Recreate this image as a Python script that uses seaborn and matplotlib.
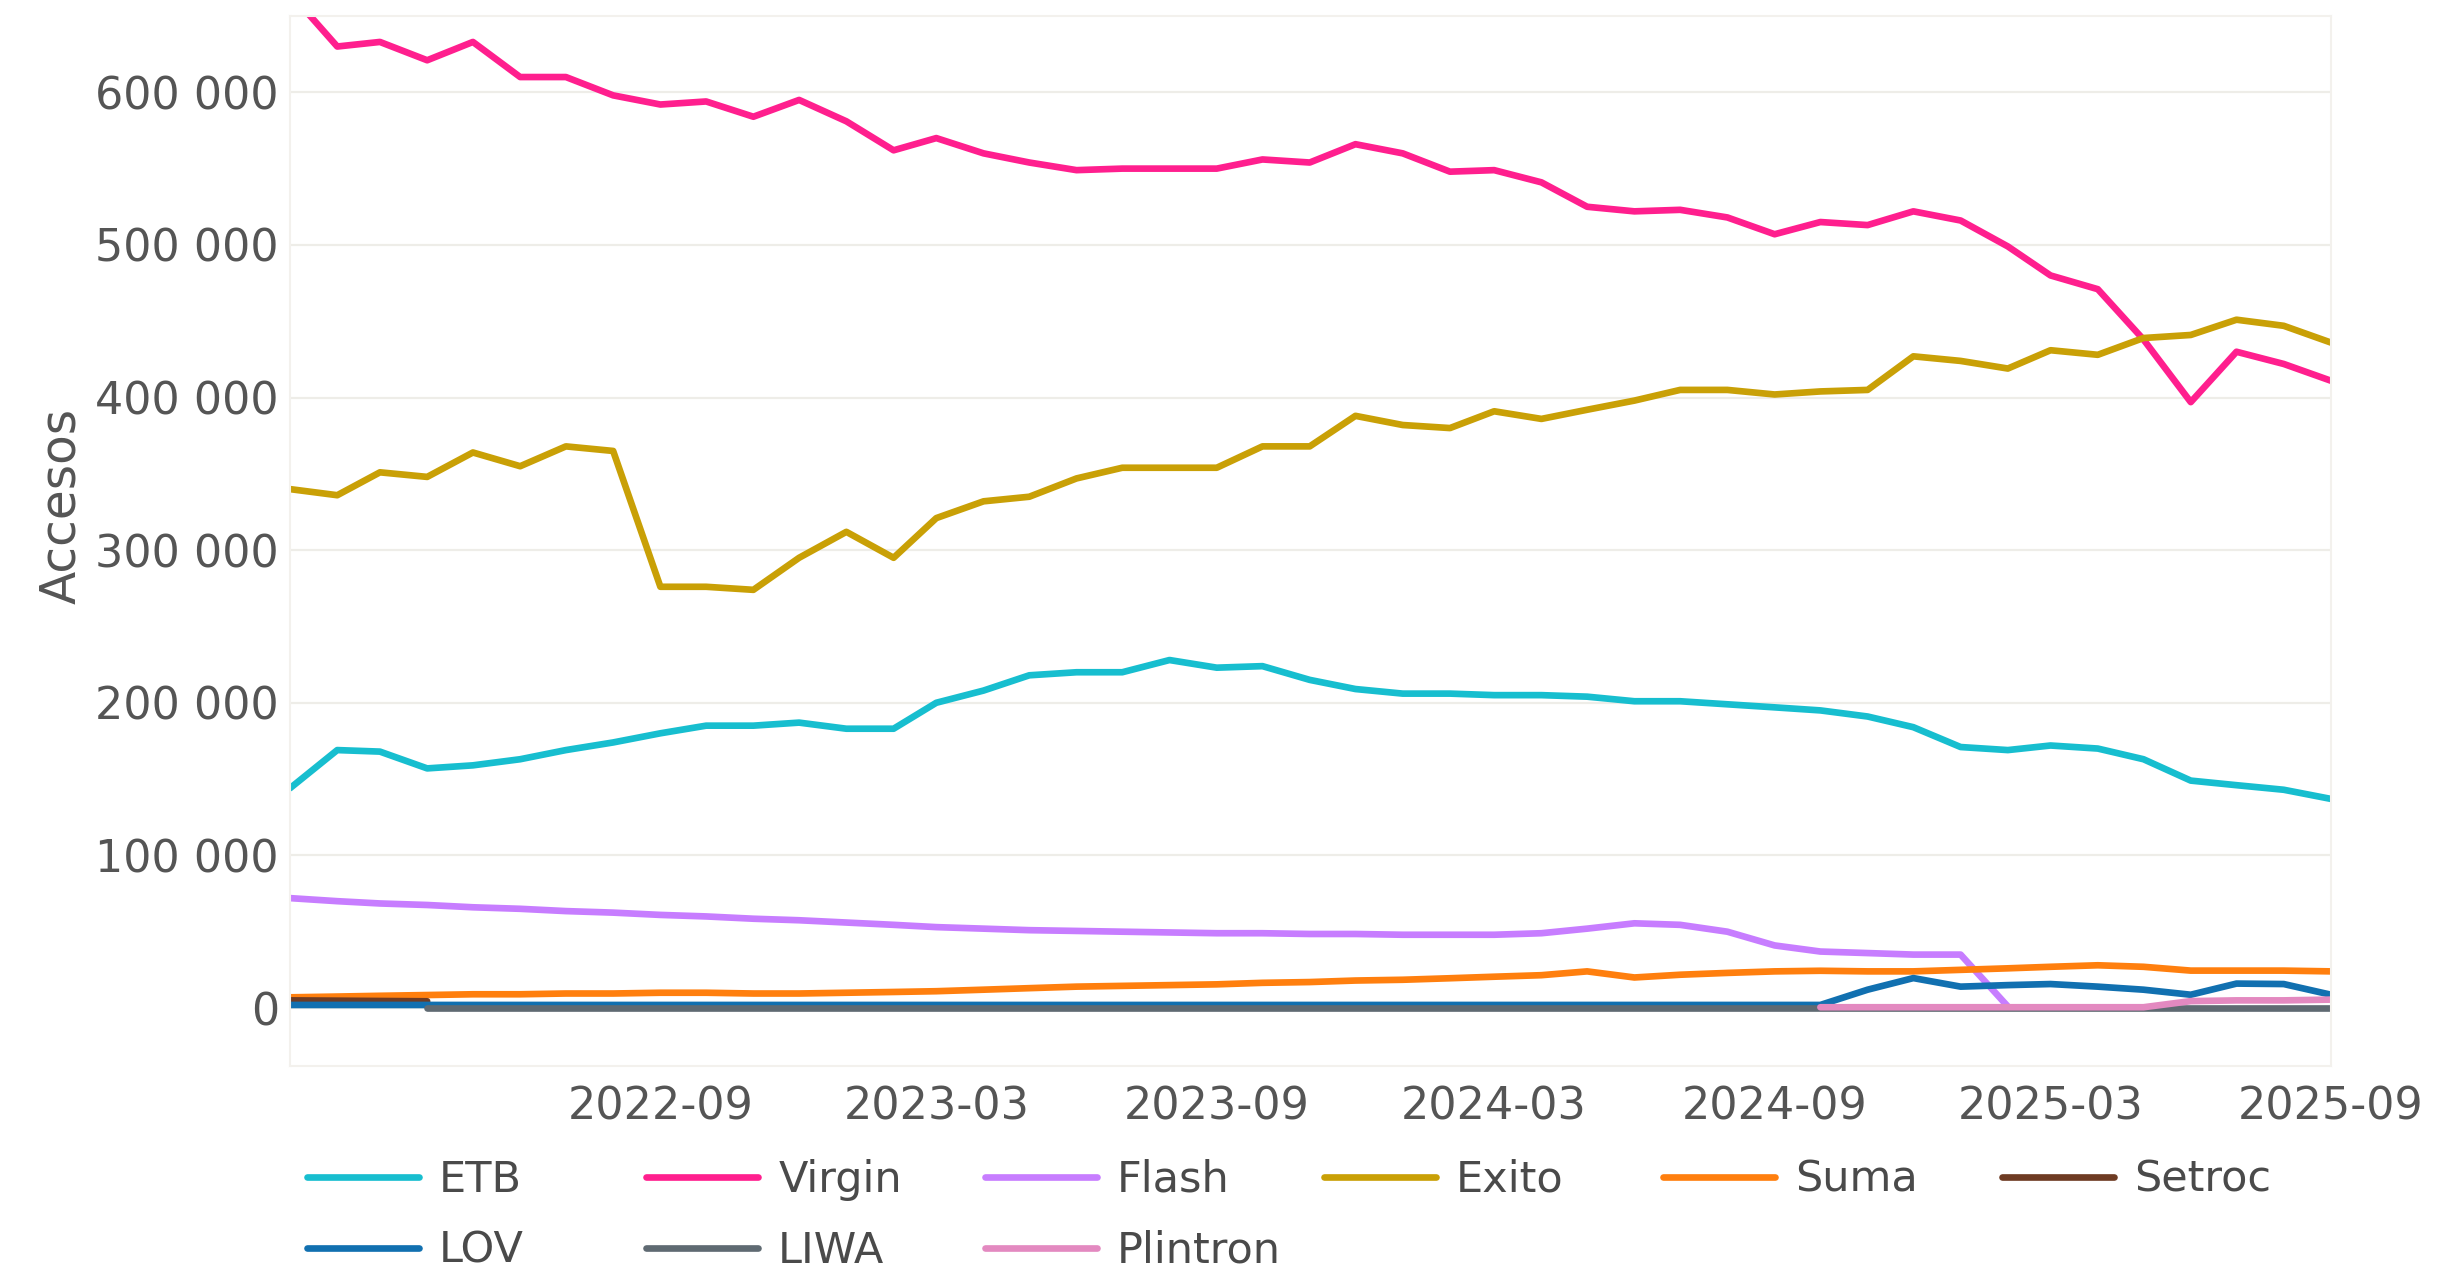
import pandas as pd
import matplotlib
matplotlib.use("Agg")
import matplotlib.pyplot as plt
from matplotlib.lines import Line2D
from matplotlib.ticker import FuncFormatter
import seaborn as sns

# monthly data, 2022-01 .. 2025-09 (values in thousands of accesses)
MONTHS = pd.date_range("2022-01-01", "2025-09-01", freq="MS")

etb = [144, 169, 168, 157, 159, 163, 169, 174, 180, 185, 185, 187, 183, 183, 200,
       208, 218, 220, 220, 228, 223, 224, 215, 209, 206, 206, 205, 205, 204, 201,
       201, 199, 197, 195, 191, 184, 171, 169, 172, 170, 163, 149, 146, 143, 137]
virgin = [665, 630, 633, 621, 633, 610, 610, 598, 592, 594, 584, 595, 581, 562, 570,
          560, 554, 549, 550, 550, 550, 556, 554, 566, 560, 548, 549, 541, 525, 522,
          523, 518, 507, 515, 513, 522, 516, 499, 480, 471, 438, 397, 430, 422, 411]
flash = [72, 70, 68.5, 67.5, 66, 65, 63.5, 62.5, 61, 60, 58.5, 57.5, 56, 54.5, 53,
         52, 51, 50.5, 50, 49.5, 49, 49, 48.5, 48.5, 48, 48, 48, 49, 52, 55.5,
         54.5, 50, 41, 37, 36, 35, 35, 1]
exito = [340, 336, 351, 348, 364, 355, 368, 365, 276, 276, 274, 295, 312, 295, 321,
         332, 335, 347, 354, 354, 354, 368, 368, 388, 382, 380, 391, 386, 392, 398,
         405, 405, 402, 404, 405, 427, 424, 419, 431, 428, 439, 441, 451, 447, 436]
suma = [7, 7.5, 8, 8.5, 9, 9, 9.5, 9.5, 10, 10, 9.5, 9.5, 10, 10.5, 11,
        12, 13, 14, 14.5, 15, 15.5, 16.5, 17, 18, 18.5, 19.5, 20.5, 21.5, 24, 20,
        21.8, 23, 24, 24.4, 24, 24, 25, 26, 27, 28, 27, 24.5, 24.5, 24.5, 24]
setroc = [5, 4.8, 4.6, 4.4]
lov = [2] * 33 + [2, 12, 19.6, 14, 15, 15.7, 14, 12, 8.7, 16, 15.7, 8.7]
liwa = [0.3] * 42          # starts 2022-04
plintron = [0.5] * 8 + [4.5, 5, 5, 5.5]   # starts 2024-10

SERIES = {
    "ETB": (etb, 0), "Virgin": (virgin, 0), "Flash": (flash, 0),
    "Exito": (exito, 0), "Suma": (suma, 0), "Setroc": (setroc, 0),
    "LOV": (lov, 0), "LIWA": (liwa, 3), "Plintron": (plintron, 33),
}
ORDER = ["ETB", "Virgin", "Flash", "Exito", "Suma", "Setroc", "LOV", "LIWA", "Plintron"]
COLORS = {
    "ETB": "#17BECF", "Virgin": "#FF1F8E", "Flash": "#C77DFF", "Exito": "#C9A006",
    "Suma": "#FF7F0E", "Setroc": "#6E3B23", "LOV": "#1170B0", "LIWA": "#5F6A72",
    "Plintron": "#E389C0",
}
XTICKS = ["2022-09", "2023-03", "2023-09", "2024-03", "2024-09", "2025-03", "2025-09"]
YTICKS = [0, 100000, 200000, 300000, 400000, 500000, 600000]

rows = []
for name in ORDER:
    vals, start = SERIES[name]
    for i, v in enumerate(vals):
        rows.append({"fecha": MONTHS[start + i], "operador": name, "accesos": v * 1000})
df = pd.DataFrame(rows)

sns.set_style("white")
plt.rcParams["font.family"] = ["DejaVu Sans"]

W, H = 2458, 1283
LW = 4.8
fig = plt.figure(figsize=(W / 100, H / 100), dpi=100)
ax = fig.add_axes([290 / W, 1 - 1066 / H, (2331 - 290) / W, (1066 - 16) / H])

sns.lineplot(data=df, x="fecha", y="accesos", hue="operador", hue_order=ORDER,
             palette=COLORS, linewidth=LW, errorbar=None, legend=False, ax=ax)

ax.set_xlim(MONTHS[0], MONTHS[-1])
ax.set_ylim(-38000, 650000)
ax.set_xticks(pd.to_datetime(XTICKS))
ax.set_xticklabels(XTICKS)
ax.set_yticks(YTICKS)
ax.yaxis.set_major_formatter(FuncFormatter(lambda v, p: f"{int(v):,}".replace(",", " ")))
ax.tick_params(axis="both", length=0, labelsize=32, labelcolor="#555555")
ax.tick_params(axis="x", pad=14)
ax.tick_params(axis="y", pad=8)
ax.grid(axis="y", color="#EEEDE8", linewidth=1.6)
ax.grid(axis="x", visible=False)
for s in ax.spines.values():
    s.set_color("#F3F1ED")
    s.set_linewidth(1.5)

ax.set_xlabel("")
ax.set_ylabel("Accesos", fontsize=35, color="#555555")
ax.yaxis.set_label_coords(-0.1005, 0.533)

# legend: 6 fixed-width columns, two rows
cols = [["ETB", "LOV"], ["Virgin", "LIWA"], ["Flash", "Plintron"],
        ["Exito"], ["Suma"], ["Setroc"]]
for c, names in enumerate(cols):
    handles = [Line2D([], [], color=COLORS[n], linewidth=LW) for n in names]
    fig.legend(handles, names, loc="upper left",
               bbox_to_anchor=((307 + 339 * c) / W, 1 - 1159 / H),
               frameon=False, fontsize=31, borderpad=0, borderaxespad=0,
               handlelength=2.6, handletextpad=0.47, labelspacing=0.67,
               labelcolor="#4a4a4a")

fig.savefig("out.png", dpi=100)
plt.close(fig)
